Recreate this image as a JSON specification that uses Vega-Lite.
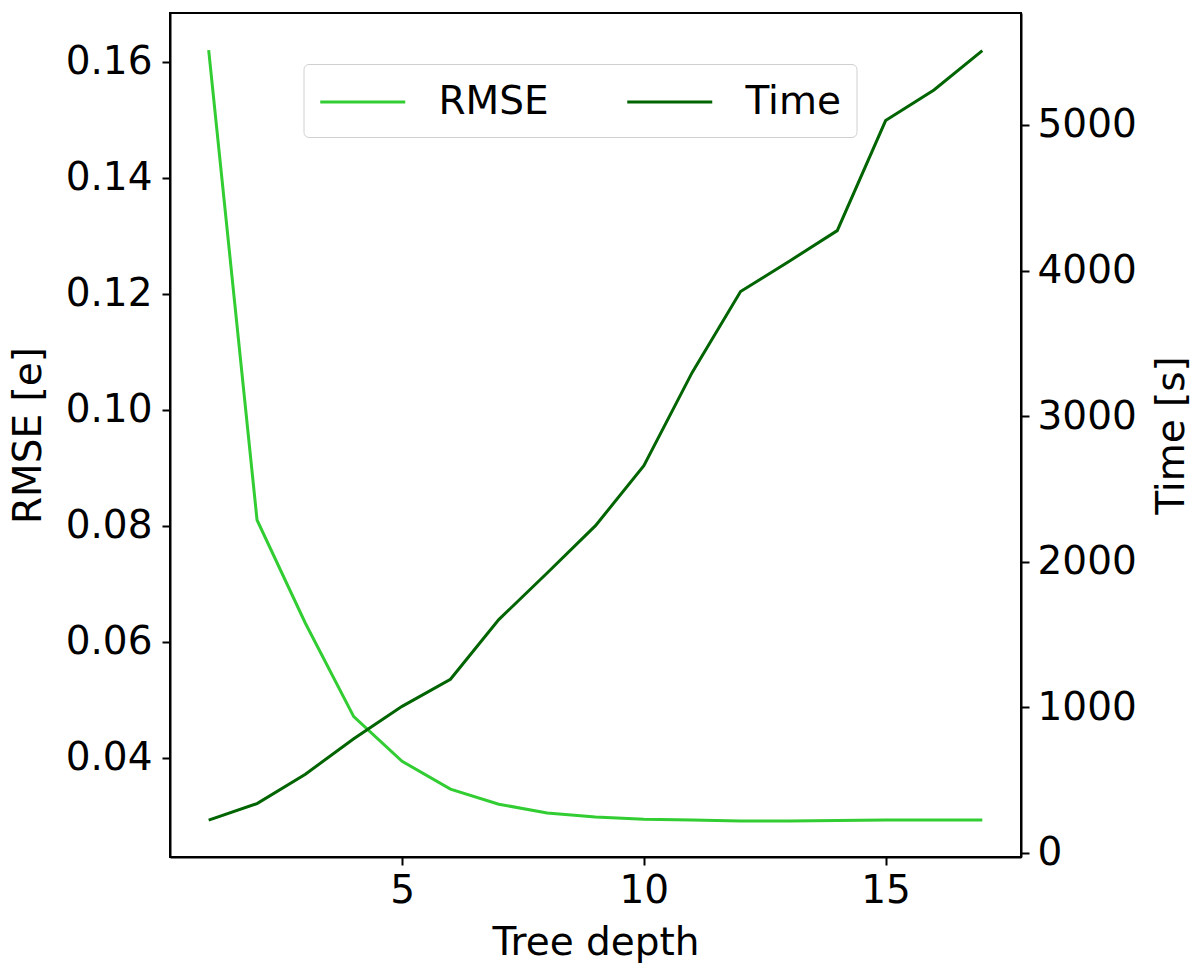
{
  "$schema": "https://vega.github.io/schema/vega-lite/v6.json",
  "width": 851,
  "height": 844,
  "autosize": {"type": "none"},
  "padding": {"left": 170, "top": 13, "right": 173, "bottom": 110},
  "background": "white",
  "config": {
    "font": "DejaVu Sans",
    "view": {"stroke": "black", "strokeWidth": 2},
    "axis": {
      "grid": false,
      "domainColor": "black",
      "domainWidth": 2,
      "tickColor": "black",
      "tickWidth": 2,
      "tickSize": 8,
      "labelFontSize": 39,
      "titleFontSize": 39,
      "labelColor": "black",
      "titleColor": "black",
      "titleFontWeight": "normal",
      "labelFont": "DejaVu Sans",
      "titleFont": "DejaVu Sans"
    }
  },
  "data": {
    "values": [
      {"depth": 1, "series": "RMSE", "value": 0.162},
      {"depth": 2, "series": "RMSE", "value": 0.081},
      {"depth": 3, "series": "RMSE", "value": 0.0632},
      {"depth": 4, "series": "RMSE", "value": 0.0471},
      {"depth": 5, "series": "RMSE", "value": 0.0394},
      {"depth": 6, "series": "RMSE", "value": 0.0346},
      {"depth": 7, "series": "RMSE", "value": 0.032},
      {"depth": 8, "series": "RMSE", "value": 0.0305},
      {"depth": 9, "series": "RMSE", "value": 0.0298},
      {"depth": 10, "series": "RMSE", "value": 0.0294},
      {"depth": 11, "series": "RMSE", "value": 0.0293},
      {"depth": 12, "series": "RMSE", "value": 0.0291},
      {"depth": 13, "series": "RMSE", "value": 0.0291},
      {"depth": 14, "series": "RMSE", "value": 0.0292},
      {"depth": 15, "series": "RMSE", "value": 0.0293},
      {"depth": 16, "series": "RMSE", "value": 0.0293},
      {"depth": 17, "series": "RMSE", "value": 0.0293},
      {"depth": 1, "series": "Time", "value": 224},
      {"depth": 2, "series": "Time", "value": 338},
      {"depth": 3, "series": "Time", "value": 540},
      {"depth": 4, "series": "Time", "value": 783},
      {"depth": 5, "series": "Time", "value": 1006},
      {"depth": 6, "series": "Time", "value": 1192},
      {"depth": 7, "series": "Time", "value": 1602},
      {"depth": 8, "series": "Time", "value": 1922},
      {"depth": 9, "series": "Time", "value": 2247},
      {"depth": 10, "series": "Time", "value": 2659},
      {"depth": 11, "series": "Time", "value": 3300},
      {"depth": 12, "series": "Time", "value": 3856},
      {"depth": 13, "series": "Time", "value": 4062},
      {"depth": 14, "series": "Time", "value": 4274},
      {"depth": 15, "series": "Time", "value": 5030},
      {"depth": 16, "series": "Time", "value": 5240},
      {"depth": 17, "series": "Time", "value": 5510}
    ]
  },
  "encoding": {
    "x": {
      "field": "depth",
      "type": "quantitative",
      "scale": {"domain": [0.2, 17.8], "nice": false, "zero": false},
      "axis": {"values": [5, 10, 15], "title": "Tree depth", "labelPadding": 6, "titlePadding": 13}
    },
    "color": {
      "field": "series",
      "type": "nominal",
      "scale": {"domain": ["RMSE", "Time"], "range": ["#32cd32", "#006400"]},
      "legend": {
        "orient": "none",
        "legendX": 133.5,
        "legendY": 51,
        "direction": "horizontal",
        "columns": 2,
        "title": null,
        "symbolType": "M-1,0H3",
        "symbolSize": 1806,
        "symbolStrokeWidth": 3,
        "symbolFillColor": "transparent",
        "labelFontSize": 39,
        "labelFont": "DejaVu Sans",
        "labelColor": "black",
        "labelOffset": 74,
        "columnPadding": 71,
        "padding": 15,
        "strokeColor": "#d0d0d0",
        "fillColor": "white",
        "cornerRadius": 5
      }
    }
  },
  "layer": [
    {
      "transform": [{"filter": "datum.series === 'RMSE'"}],
      "mark": {"type": "line", "strokeWidth": 3},
      "encoding": {
        "y": {
          "field": "value",
          "type": "quantitative",
          "scale": {"domain": [0.0229, 0.1684], "nice": false, "zero": false},
          "axis": {"orient": "left", "values": [0.04, 0.06, 0.08, 0.1, 0.12, 0.14, 0.16], "format": ".2f", "title": "RMSE [e]", "labelPadding": 10, "titlePadding": 17}
        }
      }
    },
    {
      "transform": [{"filter": "datum.series === 'Time'"}],
      "mark": {"type": "line", "strokeWidth": 3},
      "encoding": {
        "y": {
          "field": "value",
          "type": "quantitative",
          "scale": {"domain": [-29, 5769], "nice": false, "zero": false},
          "axis": {"orient": "right", "values": [0, 1000, 2000, 3000, 4000, 5000], "format": "d", "title": "Time [s]", "titleAngle": -90, "titleX": 150, "titleY": 422, "titleAlign": "center", "titleBaseline": "middle", "labelPadding": 8}
        }
      }
    }
  ],
  "resolve": {"scale": {"y": "independent"}}
}
